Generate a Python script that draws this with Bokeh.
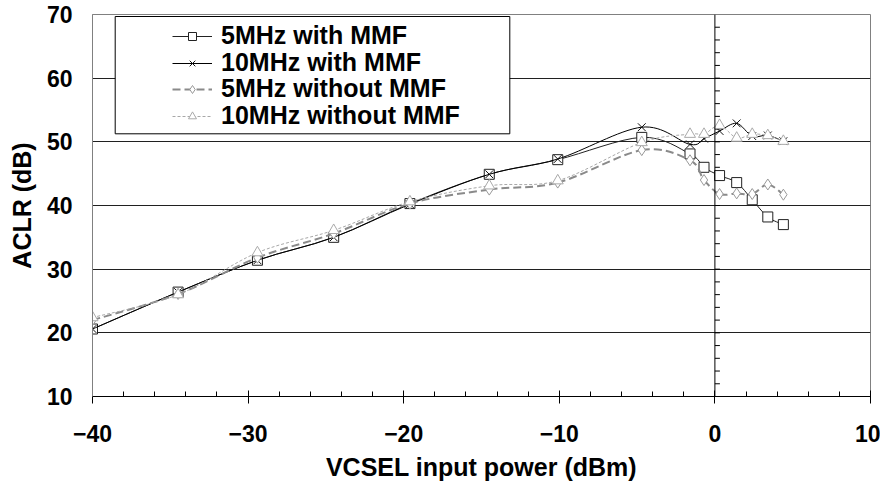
import numpy as np
from bokeh.plotting import figure
from bokeh.models import (Range1d, Legend, LegendItem, BoxAnnotation, Span,
                          SingleIntervalTicker)
from bokeh.embed import file_html
from bokeh.resources import INLINE

# ---------------- data ----------------
power_dbm = [-40, -34.5, -29.4, -24.5, -19.6, -14.5, -10.1, -4.7, -1.6, -0.7, 0.3, 1.4, 2.4, 3.4, 4.4]
aclr_5mhz_mmf = [20.6, 26.4, 31.4, 35.0, 40.3, 44.9, 47.2, 50.7, 48.1, 46.0, 44.7, 43.6, 40.9, 38.2, 37.0]
aclr_10mhz_mmf = [20.6, 26.4, 31.4, 35.0, 40.2, 44.9, 47.3, 52.3, 49.6, 50.5, 51.7, 52.9, 50.9, 51.0, 50.1]
aclr_5mhz_nommf = [22.0, 26.1, 31.8, 35.6, 40.3, 42.5, 43.6, 48.7, 47.1, 44.0, 41.8, 41.9, 41.8, 43.3, 41.7]
aclr_10mhz_nommf = [22.4, 26.0, 32.6, 36.1, 40.6, 43.1, 43.9, 49.9, 51.2, 51.2, 52.6, 50.6, 51.2, 51.0, 50.1]
series_labels = ["5MHz with MMF", "10MHz with MMF", "5MHz without MMF", "10MHz without MMF"]
x_ticks_major = 10
vert_axis_ticks = list(range(12, 70, 2))

FONT = "Liberation Sans"


def smooth_segments(xs, ys, t=1.0 / 6.0):
    """Bezier control points for an Excel-like smoothed line through the points."""
    x = np.asarray(xs, float)
    y = np.asarray(ys, float)
    n = len(x)
    xp = np.concatenate([[x[0]], x, [x[-1]]])
    yp = np.concatenate([[y[0]], y, [y[-1]]])
    cx0 = x[:-1] + (xp[2:n + 1] - xp[0:n - 1]) * t
    cy0 = y[:-1] + (yp[2:n + 1] - yp[0:n - 1]) * t
    cx1 = x[1:] - (xp[3:n + 2] - xp[1:n]) * t
    cy1 = y[1:] - (yp[3:n + 2] - yp[1:n]) * t
    return dict(x0=x[:-1], y0=y[:-1], x1=x[1:], y1=y[1:], cx0=cx0, cy0=cy0, cx1=cx1, cy1=cy1)


p = figure(width=880, height=484, x_range=Range1d(-40, 10), y_range=Range1d(10, 70),
           output_backend="svg", toolbar_location=None,
           min_border_left=92, min_border_right=10, min_border_top=14, min_border_bottom=88)
p.background_fill_color = "white"
p.border_fill_color = "white"
p.outline_line_color = "#808080"
p.outline_line_width = 1

# axes
p.xaxis.ticker = SingleIntervalTicker(interval=x_ticks_major, num_minor_ticks=5)
p.yaxis.ticker = SingleIntervalTicker(interval=10, num_minor_ticks=0)
p.xgrid.grid_line_color = None
p.ygrid.grid_line_color = "#202020"
p.ygrid.grid_line_width = 1

xa = p.xaxis[0]
xa.axis_line_color = "black"
xa.major_tick_line_color = "black"
xa.minor_tick_line_color = "black"
xa.major_tick_in = 6
xa.major_tick_out = 7
xa.minor_tick_in = 5
xa.minor_tick_out = 0
xa.major_label_text_font = FONT
xa.major_label_text_font_style = "bold"
xa.major_label_text_font_size = "23px"
xa.major_label_text_color = "black"
xa.major_label_standoff = 21
xa.axis_label = "VCSEL input power (dBm)"
xa.axis_label_text_font = FONT
xa.axis_label_text_font_style = "bold"
xa.axis_label_text_font_size = "25px"
xa.axis_label_text_color = "black"
xa.axis_label_standoff = 8

ya = p.yaxis[0]
ya.axis_line_color = "#808080"
ya.major_tick_line_color = None
ya.minor_tick_line_color = None
ya.major_tick_in = 0
ya.major_tick_out = 0
ya.major_label_text_font = FONT
ya.major_label_text_font_style = "bold"
ya.major_label_text_font_size = "23px"
ya.major_label_text_color = "black"
ya.major_label_standoff = 20
ya.axis_label = "ACLR (dB)"
ya.axis_label_text_font = FONT
ya.axis_label_text_font_style = "bold"
ya.axis_label_text_font_size = "25px"
ya.axis_label_text_color = "black"
ya.axis_label_standoff = 8

# vertical axis crossing at x = 0
p.add_layout(Span(location=0, dimension="height", line_color="black", line_width=1))
p.ray(x=[0] * len(vert_axis_ticks), y=vert_axis_ticks, length=5, angle=0,
      length_units="screen", line_color="black", line_width=1)

styles = [
    dict(y=aclr_5mhz_mmf, color="#222222", width=1, dash="solid", marker="square", msize=10, mcolor="#222222"),
    dict(y=aclr_10mhz_mmf, color="#000000", width=1, dash="solid", marker="x", msize=11, mcolor="#111111"),
    dict(y=aclr_5mhz_nommf, color="#8a8a8a", width=2, dash="8 4", marker="diamond", msize=11, mcolor="#999999"),
    dict(y=aclr_10mhz_nommf, color="#a8a8a8", width=1, dash="3 2", marker="triangle", msize=11, mcolor="#aaaaaa"),
]

items = []
for lab, st in zip(series_labels, styles):
    seg = smooth_segments(power_dbm, st["y"])
    p.bezier(x0=seg["x0"], y0=seg["y0"], x1=seg["x1"], y1=seg["y1"],
             cx0=seg["cx0"], cy0=seg["cy0"], cx1=seg["cx1"], cy1=seg["cy1"],
             line_color=st["color"], line_width=st["width"], line_dash=st["dash"])
    # legend-only line sample (a single NaN point draws nothing in the plot)
    proxy = p.line(x=[np.nan], y=[np.nan], line_color=st["color"], line_width=st["width"],
                   line_dash=st["dash"])
    sc = p.scatter(x=power_dbm, y=st["y"], marker=st["marker"], size=st["msize"],
                   line_color=st["mcolor"], fill_color="white", line_width=1)
    items.append(LegendItem(label=lab, renderers=[proxy, sc]))

# legend frame
box = BoxAnnotation(left=22.7, right=417.3, bottom=262.7, top=380,
                    left_units="screen", right_units="screen",
                    bottom_units="screen", top_units="screen",
                    fill_color="white", fill_alpha=1.0, line_color="black", line_width=1,
                    line_alpha=1.0)
p.add_layout(box)

# one legend row per item, so that the rows sit as tightly as in the reference
row_bottoms = [346, 319, 293, 266]
for item, vy in zip(items, row_bottoms):
    leg = Legend(items=[item], location=(80, vy), padding=0, spacing=0, margin=0,
                 glyph_width=40, glyph_height=20, label_standoff=9,
                 label_text_font=FONT, label_text_font_style="bold",
                 label_text_font_size="25px", label_text_color="black",
                 border_line_color=None, background_fill_alpha=0)
    p.add_layout(leg)

open("out.html", "w").write(file_html(p, INLINE))
